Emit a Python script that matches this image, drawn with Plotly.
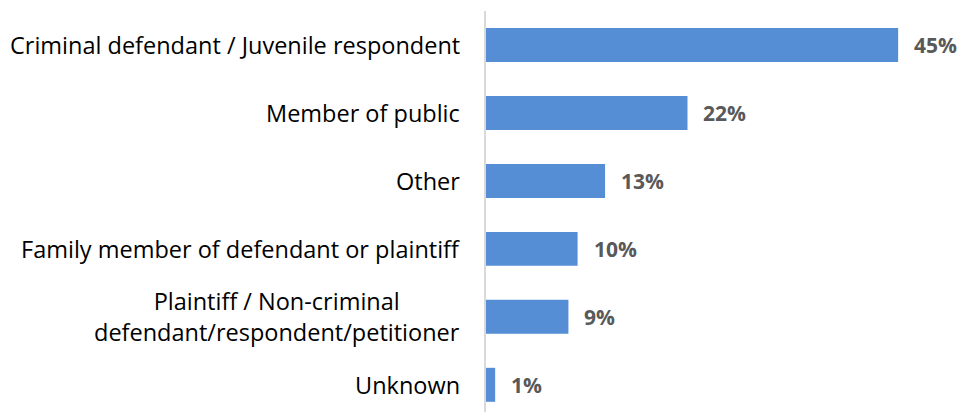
import plotly.graph_objects as go

categories = [
    "Criminal defendant / Juvenile respondent",
    "Member of public",
    "Other",
    "Family member of defendant or plaintiff",
    "Plaintiff / Non-criminal<br>defendant/respondent/petitioner",
    "Unknown",
]
values = [45, 22, 13, 10, 9, 1]
value_labels = ["45%", "22%", "13%", "10%", "9%", "1%"]

fig = go.Figure()
fig.add_trace(
    go.Bar(
        x=values,
        y=categories,
        orientation="h",
        marker=dict(color="#558ED5", line=dict(width=0)),
        width=0.5,
        hoverinfo="skip",
    )
)

for cat, val, lab in zip(categories, values, value_labels):
    # category name on the left, lines centred like the original
    fig.add_annotation(
        x=0,
        xref="paper",
        y=cat,
        yref="y",
        text=cat,
        showarrow=False,
        xanchor="right",
        xshift=-24,
        align="center",
        font=dict(family="Open Sans", size=23.5, color="#000000"),
    )
    # value label right of the bar
    fig.add_annotation(
        x=val,
        y=cat,
        text=f"<b>{lab}</b>",
        showarrow=False,
        xanchor="left",
        xshift=14,
        font=dict(family="Open Sans", size=21, color="#595959"),
    )

# page body has an 8px margin, so the figure is shifted to fit the window
fig.update_layout(
    width=957,
    height=404,
    margin=dict(l=478, r=0, t=3, b=0),
    plot_bgcolor="white",
    paper_bgcolor="white",
    showlegend=False,
    font=dict(family="Open Sans", size=23, color="#000000"),
    xaxis=dict(
        range=[0, 52.3],
        showgrid=False,
        zeroline=False,
        showticklabels=False,
        showline=False,
    ),
    yaxis=dict(
        type="category",
        range=[5.4, -0.5],
        showgrid=False,
        zeroline=False,
        showline=True,
        linecolor="#D9D9D9",
        linewidth=2,
        ticks="",
        showticklabels=False,
    ),
)

fig.write_html("out.html")
